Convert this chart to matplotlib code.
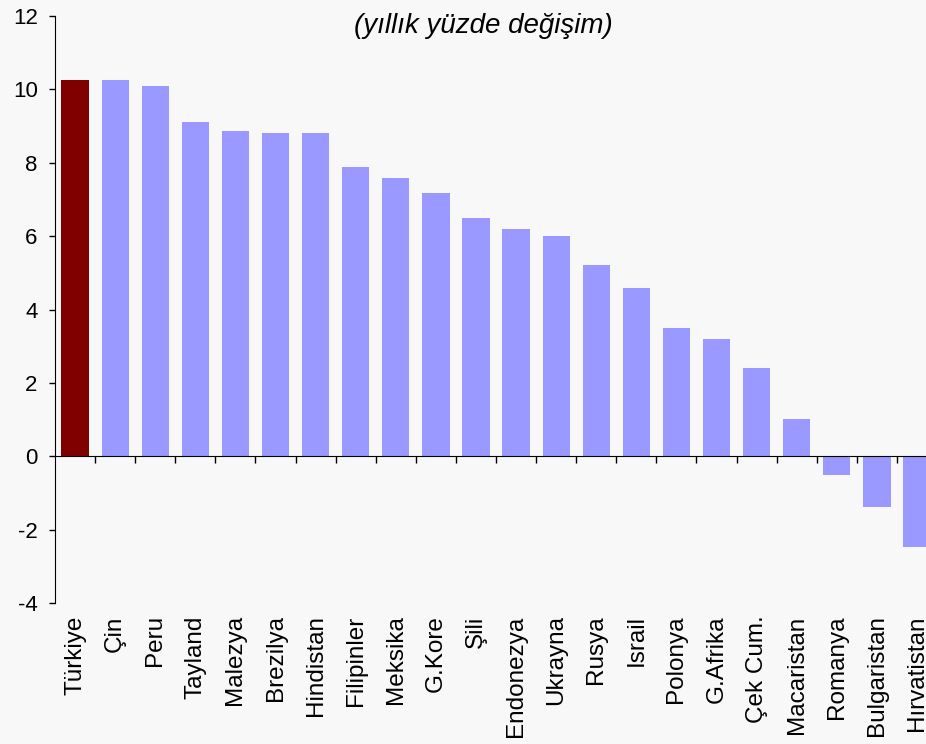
import matplotlib
matplotlib.use("Agg")
import matplotlib.pyplot as plt
from matplotlib.transforms import blended_transform_factory

plt.rcParams["font.family"] = ["Liberation Sans", "DejaVu Sans"]
plt.rcParams["axes.unicode_minus"] = False

countries = ["Türkiye", "Çin", "Peru", "Tayland", "Malezya", "Brezilya",
             "Hindistan", "Filipinler", "Meksika", "G.Kore", "Şili",
             "Endonezya", "Ukrayna", "Rusya", "Israil", "Polonya",
             "G.Afrika", "Çek Cum.", "Macaristan", "Romanya", "Bulgaristan",
             "Hırvatistan"]
growth = [10.25, 10.25, 10.09, 9.11, 8.86, 8.81, 8.81, 7.88, 7.58, 7.17,
          6.49, 6.19, 6.00, 5.21, 4.58, 3.49, 3.19, 2.40, 1.01, -0.50,
          -1.38, -2.47]
highlight = "Türkiye"

BG = "#f8f8f8"
fig = plt.figure(figsize=(9.26, 7.44), dpi=100, facecolor=BG)
ax = fig.add_axes([0.0594, 0.1895, 0.9525, 0.789], facecolor=BG)

x = range(len(countries))
colors = ["#800000" if c == highlight else "#9999ff" for c in countries]
ax.bar(x, growth, width=0.68, color=colors, zorder=2)

ax.set_xlim(-0.5, len(countries) - 0.5)
ax.set_ylim(-4, 12)
ax.set_yticks(range(-4, 13, 2))
ax.tick_params(axis="y", direction="out", length=4.5, width=1, pad=8,
               labelsize=16)

# category axis sits on the zero line, ticks between the bars
for side in ("top", "right"):
    ax.spines[side].set_visible(False)
ax.spines["bottom"].set_position(("data", 0))
ax.spines["bottom"].set_zorder(3)
ax.set_xticks([i + 0.5 for i in range(len(countries) - 1)])
ax.set_xticklabels([])
ax.tick_params(axis="x", direction="out", length=5, width=1)

trans = blended_transform_factory(ax.transData, ax.transAxes)
for i, name in enumerate(countries):
    ax.text(i, -0.021, name, transform=trans, rotation=90, ha="center",
            va="top", fontsize=17.5)

fig.text(0.5216, 0.9556, "(yıllık yüzde değişim)", ha="center",
         va="baseline", fontsize=20, style="italic")

fig.savefig("out.png", dpi=100, facecolor=BG)
